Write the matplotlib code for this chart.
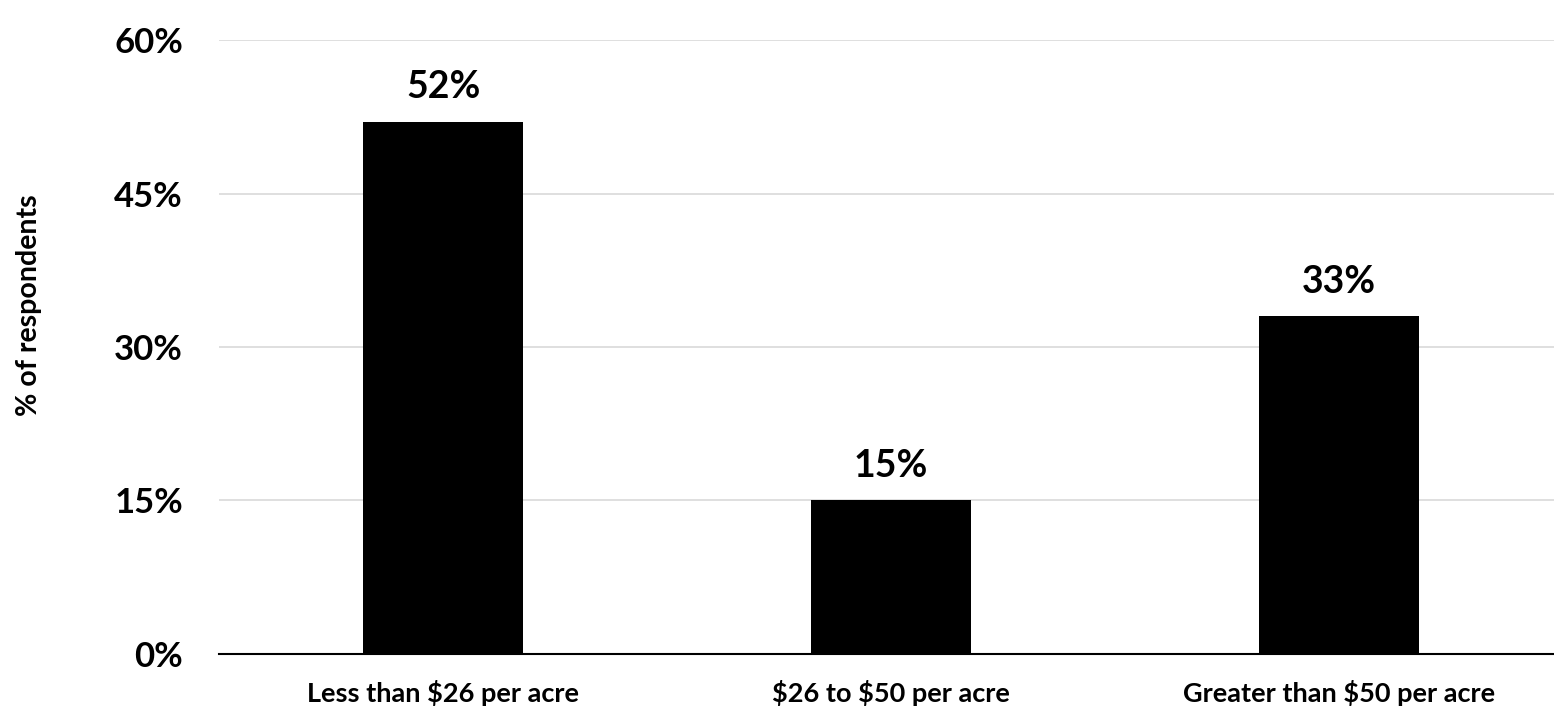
import matplotlib
matplotlib.use("Agg")
import matplotlib.pyplot as plt
from matplotlib.ticker import FixedLocator

categories = ["Less than \\$26 per acre", "\\$26 to \\$50 per acre", "Greater than \\$50 per acre"]
values = [52, 15, 33]
yticks = [0, 15, 30, 45, 60]
ytick_labels = ["0%", "15%", "30%", "45%", "60%"]

plt.rcParams['font.family'] = ['Lato', 'DejaVu Sans']

fig = plt.figure(figsize=(15.54, 7.07), dpi=100)
ax = fig.add_axes([0.141, 0.075, 0.865, 0.8684])

x = list(range(len(categories)))
ax.bar(x, values, width=0.357, color="black", zorder=3)
for xi, v in zip(x, values):
    ax.text(xi, v + 1.7, f"{v}%", ha="center", va="bottom", fontsize=27,
            fontweight="bold", color="black", zorder=4)

ax.set_xlim(-0.5, 2.5)
ax.set_ylim(0, 60)
ax.yaxis.set_major_locator(FixedLocator(yticks))
ax.set_yticklabels(ytick_labels, fontsize=25, fontweight="bold")
ax.set_xticks(x)
ax.set_xticklabels(categories, fontsize=19.5, fontweight="bold")
ax.tick_params(axis="both", length=0)
ax.tick_params(axis="y", pad=26)
ax.tick_params(axis="x", pad=19)
ax.grid(axis="y", color="#d9d9d9", linewidth=1.2, zorder=1)
ax.set_axisbelow(True)
for s in ["top", "right", "left"]:
    ax.spines[s].set_visible(False)
ax.spines["bottom"].set_linewidth(1.5)
ax.spines["bottom"].set_zorder(5)
ax.set_ylabel("% of respondents", fontsize=20.5, fontweight="bold")
ax.yaxis.set_label_coords(-0.132, 0.568)

fig.savefig("out.png", dpi=100)
